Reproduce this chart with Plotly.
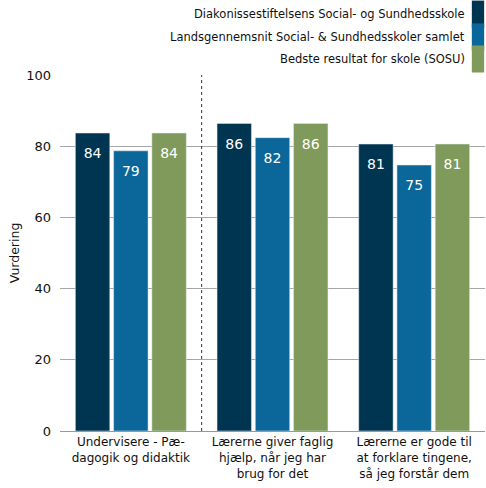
import plotly.graph_objects as go

categories = ["Undervisere - Pæ-<br>dagogik og didaktik",
              "Lærerne giver faglig<br>hjælp, når jeg har<br>brug for det",
              "Lærerne er gode til<br>at forklare tingene,<br>så jeg forstår dem"]
series_names = ["Diakonissestiftelsens Social- og Sundhedsskole",
                "Landsgennemsnit Social- & Sundhedsskoler samlet",
                "Bedste resultat for skole (SOSU)"]
school = [83.7, 86.4, 80.6]
national = [78.7, 82.4, 74.7]
best = [83.7, 86.4, 80.6]
colors = ["#003552", "#0b6699", "#7f9a5a"]

FONT = "DejaVu Sans"
fig = go.Figure()
for name, vals, c in zip(series_names, [school, national, best], colors):
    fig.add_trace(go.Bar(
        x=categories, y=vals, name=name, marker_color=c,
        showlegend=False, hoverinfo="skip"))
# value labels inside top of bars (grouped like the bars)
for name, vals in zip(series_names, [school, national, best]):
    fig.add_trace(go.Scatter(
        x=categories, y=vals, mode="markers+text",
        marker=dict(size=22, opacity=0),
        text=[f"{v:.0f}" for v in vals], textposition="bottom center",
        textfont=dict(color="white", size=14, family=FONT),
        showlegend=False, hoverinfo="skip", cliponaxis=False))

# dotted separator between first and second category
fig.add_shape(type="line", xref="x", yref="paper", x0=0.5, x1=0.5, y0=0, y1=1.0,
              line=dict(color="#333333", width=1, dash="dot"))

# legend (text right-aligned, swatch to the right)
ys = [1.171, 1.107, 1.045]
for name, c, yy in zip(series_names, colors, ys):
    fig.add_annotation(xref="paper", yref="paper", x=0.957, y=yy, xanchor="right",
                       yanchor="middle", text=name, showarrow=False,
                       font=dict(size=11.5, family=FONT, color="#111111"))
    fig.add_shape(type="rect", xref="paper", yref="paper",
                  x0=0.969, x1=0.998, y0=yy - 0.038, y1=yy + 0.038,
                  fillcolor=c, line=dict(width=0), layer="above")

fig.update_layout(
    width=486, height=488,
    margin=dict(l=60, r=1, t=75, b=57),
    barmode="group", bargap=0.19, bargroupgap=0.1,
    scattermode="group", scattergap=0.19,
    plot_bgcolor="white", paper_bgcolor="white",
    font=dict(family=FONT, size=12, color="#111111"),
    xaxis=dict(showline=True, linecolor="#999999", linewidth=1, ticks="",
               automargin=False, tickfont=dict(size=12, family=FONT)),
    yaxis=dict(range=[0, 100], tickvals=[0, 20, 40, 60, 80, 100],
               showgrid=True, gridcolor="#a6a6a6", gridwidth=1,
               zeroline=False, ticks="", ticklabelstandoff=8, automargin=True,
               tickfont=dict(size=13, family=FONT),
               title=dict(text="Vurdering", font=dict(size=12.5, family=FONT), standoff=3)),
)

fig.write_html("out.html", config={"displayModeBar": False},
               post_script="document.body.style.margin='0';document.body.style.overflow='hidden';")
